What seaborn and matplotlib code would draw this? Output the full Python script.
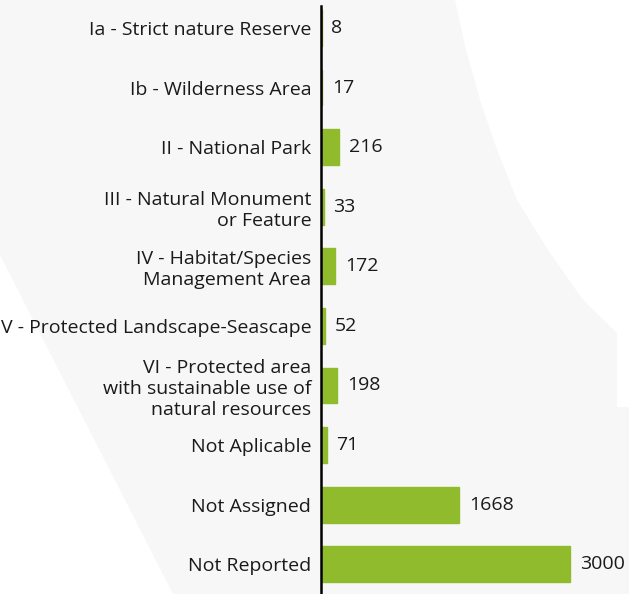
"""
Protected areas by IUCN management category.
Horizontal bar chart of the number of sites in each category.
"""

import pandas as pd
import matplotlib.pyplot as plt
import seaborn as sns
from matplotlib.patches import Polygon

# -------------------------------------------------------------------
# 1. Data
# -------------------------------------------------------------------
categories = [
    "Ia - Strict nature Reserve",
    "Ib - Wilderness Area",
    "II - National Park",
    "III - Natural Monument\nor Feature",
    "IV - Habitat/Species\nManagement Area",
    "V - Protected Landscape-Seascape",
    "VI - Protected area\nwith sustainable use of\nnatural resources",
    "Not Aplicable",
    "Not Assigned",
    "Not Reported",
]
counts = [8, 17, 216, 33, 172, 52, 198, 71, 1668, 3000]

df = pd.DataFrame({"Category": categories, "Count": counts})

plt.rcParams["font.family"] = ["Open Sans", "DejaVu Sans"]

# -------------------------------------------------------------------
# 2. Figure + light grey background shape
# -------------------------------------------------------------------
fig = plt.figure(figsize=(6.29, 5.94), dpi=100)

shape = [(0, 0), (455, 0), (466, 50), (480, 100), (497, 150), (517, 200),
         (548, 250), (583, 300), (617, 333), (617, 407), (629, 407),
         (629, 594), (173, 594), (0, 255)]
fig.add_artist(Polygon([(x / 629, 1 - y / 594) for x, y in shape], closed=True,
                       transform=fig.transFigure, facecolor="#f7f7f7",
                       edgecolor="none", zorder=-10))

# -------------------------------------------------------------------
# 3. Bars
# -------------------------------------------------------------------
ax = fig.add_axes([321 / 629, 0, 302 / 629, 588 / 594])
ax.patch.set_alpha(0)

sns.barplot(data=df, x="Count", y="Category", color="#8fbb2c",
            saturation=1, width=0.6, edgecolor="#8fbb2c", linewidth=1, ax=ax)

ax.set_xlim(0, 3000 * 302 / 249)
ax.set_ylim(9.5, -0.37)
ax.set_xticks([])
ax.set_xlabel("")
ax.set_ylabel("")
for side in ["top", "right", "bottom"]:
    ax.spines[side].set_visible(False)
ax.spines["left"].set_color("black")
ax.spines["left"].set_linewidth(1.8)
ax.tick_params(axis="y", length=0, pad=7, labelsize=14, labelcolor="#1a1a1a")

ax.bar_label(ax.containers[0], padding=7, fontsize=14, color="#1a1a1a")

fig.savefig("out.png", dpi=100)
